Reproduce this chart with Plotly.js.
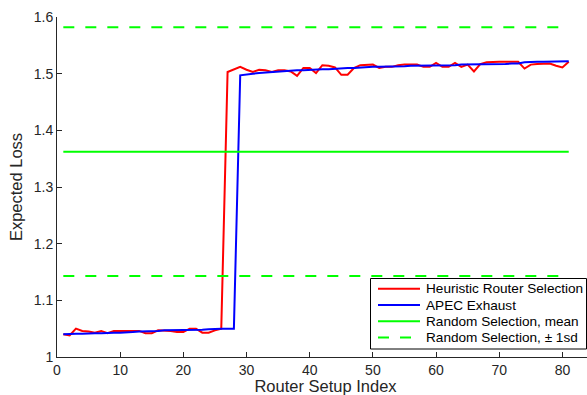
<!DOCTYPE html>
<html>
<head>
<meta charset="utf-8">
<script src="https://cdn.plot.ly/plotly-3.0.1.min.js"></script>
<style>
html, body { margin: 0; padding: 0; overflow: hidden; background: #fff; width: 587px; height: 395px; }
#chart { width: 610px; height: 395px; }
</style>
</head>
<body>
<div id="chart"></div>
<script>
// ---- data ----
const routerIndex = [];
for (let i = 1; i <= 81; i++) routerIndex.push(i);

const heuristicLoss = [
  1.040, 1.038, 1.050, 1.046, 1.045, 1.043, 1.046, 1.042, 1.046, 1.046,
  1.046, 1.047, 1.046, 1.042, 1.042, 1.047, 1.047, 1.046, 1.044, 1.044,
  1.050, 1.050, 1.043, 1.043, 1.047, 1.050,
  1.503, 1.508, 1.512, 1.507, 1.503, 1.507, 1.506, 1.503, 1.506, 1.506,
  1.504, 1.496, 1.510, 1.510, 1.501, 1.515, 1.514, 1.511, 1.498, 1.498,
  1.510, 1.515, 1.516, 1.516, 1.510, 1.512, 1.512, 1.515, 1.516, 1.516,
  1.516, 1.512, 1.512, 1.519, 1.512, 1.512, 1.519, 1.512, 1.516, 1.504,
  1.517, 1.520, 1.521, 1.521, 1.521, 1.521, 1.521, 1.509, 1.516, 1.517,
  1.517, 1.518, 1.514, 1.511, 1.521
];

const apecLoss = [
  1.040, 1.041, 1.041, 1.041, 1.042, 1.042, 1.042, 1.043, 1.043, 1.043,
  1.043, 1.044, 1.045, 1.045, 1.046, 1.046, 1.047, 1.047, 1.047, 1.047,
  1.048, 1.048, 1.048, 1.049, 1.050, 1.050, 1.050, 1.050,
  1.497, 1.499, 1.500, 1.501, 1.502, 1.503, 1.504, 1.505, 1.505, 1.506,
  1.506, 1.507, 1.507, 1.508, 1.508, 1.509, 1.509, 1.510, 1.510, 1.511,
  1.511, 1.512, 1.512, 1.512, 1.513, 1.513, 1.513, 1.514, 1.514, 1.514,
  1.514, 1.515, 1.515, 1.515, 1.515, 1.516, 1.516, 1.516, 1.516, 1.517,
  1.517, 1.517, 1.517, 1.518, 1.518, 1.520, 1.521, 1.521, 1.521, 1.521,
  1.522, 1.522, 1.522
];

const randomMean = 1.362;
const randomUpper = 1.582;
const randomLower = 1.143;

const xTickVals = [0, 10, 20, 30, 40, 50, 60, 70, 80];
const yTickVals = [1, 1.1, 1.2, 1.3, 1.4, 1.5, 1.6];
const yTickText = ["1", "1.1", "1.2", "1.3", "1.4", "1.5", "1.6"];

const seriesNames = [
  "Heuristic Router Selection",
  "APEC Exhaust",
  "Random Selection, mean",
  "Random Selection, \u00B1 1sd"
];

// ---- chart ----
const xEnds = [routerIndex[0], routerIndex[routerIndex.length - 1]];
const font = "Arial, 'Liberation Sans', Helvetica, sans-serif";
const axisColor = "#262626";
const W = 610, H = 395;
const M = { l: 57, r: 16, t: 17, b: 38 };
const plotW = W - M.l - M.r, plotH = H - M.t - M.b;
const px2x = p => (p - M.l) / plotW;
const px2y = p => (H - M.b - p) / plotH;

const red = { color: "#ff0000", width: 2 };
const blue = { color: "#0000ff", width: 2 };
const greenSolid = { color: "#00ff00", width: 2 };
const greenDash = { color: "#00ff00", width: 2, dash: "11px,11px" };

const traces = [
  { x: routerIndex, y: heuristicLoss, mode: "lines", name: seriesNames[0], line: red },
  { x: routerIndex, y: apecLoss, mode: "lines", name: seriesNames[1], line: blue },
  { x: xEnds, y: [randomMean, randomMean], mode: "lines", name: seriesNames[2], line: greenSolid },
  { x: xEnds, y: [randomUpper, randomUpper], mode: "lines", name: seriesNames[3], line: greenDash },
  { x: xEnds, y: [randomLower, randomLower], mode: "lines", name: seriesNames[3], line: greenDash }
];

// legend box (drawn as shapes + annotations to match the compact spacing)
const legendStyles = [red, blue, greenSolid, greenDash];
const legBox = { x0: 370.5, x1: 586.5, y0: 278.5, y1: 349 };
const rowY = [288.7, 305, 321.3, 337.6];
const shapes = [{
  type: "rect", xref: "paper", yref: "paper",
  x0: px2x(legBox.x0), x1: px2x(legBox.x1), y0: px2y(legBox.y1), y1: px2y(legBox.y0),
  fillcolor: "#ffffff", line: { color: "#000000", width: 1 }, layer: "above"
}];
const annotations = [];
seriesNames.forEach((name, i) => {
  const st = legendStyles[i];
  shapes.push({
    type: "line", xref: "paper", yref: "paper", layer: "above",
    x0: px2x(378), x1: px2x(420), y0: px2y(rowY[i]), y1: px2y(rowY[i]),
    line: { color: st.color, width: st.width, dash: st.dash || "solid" }
  });
  annotations.push({
    xref: "paper", yref: "paper", x: px2x(424), y: px2y(rowY[i]),
    xanchor: "left", yanchor: "middle", showarrow: false, text: name,
    font: { family: font, size: 13.6, color: "#000000" }
  });
});

const layout = {
  width: W, height: H,
  margin: M,
  paper_bgcolor: "#ffffff", plot_bgcolor: "#ffffff",
  font: { family: font, size: 14, color: axisColor },
  showlegend: false,
  xaxis: {
    range: [0, 85], tickvals: xTickVals, ticks: "inside", ticklen: 5,
    tickcolor: axisColor, showline: true, linecolor: axisColor, linewidth: 1,
    showgrid: false, zeroline: false,
    tickfont: { family: font, size: 14, color: axisColor },
    title: { text: "Router Setup Index", font: { family: font, size: 16.5, color: axisColor }, standoff: 1 }
  },
  yaxis: {
    range: [1, 1.6], tickvals: yTickVals, ticktext: yTickText, ticks: "inside", ticklen: 5,
    tickcolor: axisColor, showline: true, linecolor: axisColor, linewidth: 1,
    showgrid: false, zeroline: false,
    tickfont: { family: font, size: 14, color: axisColor },
    title: { text: "Expected Loss", font: { family: font, size: 16.5, color: axisColor }, standoff: 6 }
  },
  shapes: shapes,
  annotations: annotations
};

Plotly.newPlot("chart", traces, layout, { displayModeBar: false, staticPlot: true });
</script>
</body>
</html>
